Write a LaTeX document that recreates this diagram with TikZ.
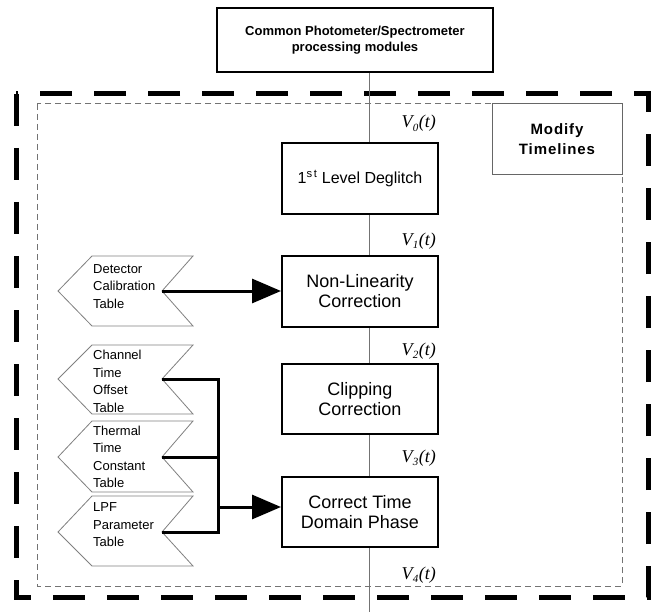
\documentclass[tikz,border=0pt]{standalone}
\usepackage{fontspec}
\setmainfont{Liberation Sans}
\newfontfamily\timesfont{Liberation Serif}
\usetikzlibrary{arrows.meta}
\newcommand\mysig[1]{V\kern0.3pt\raisebox{-3.5pt}{\fontsize{11}{11}\selectfont #1}\kern0.5pt(t)}
\newcommand\mychev[3]{\draw[chev] (92,-#1) -- (193,-#1) -- (162,-#2) -- (193,-#3) -- (92,-#3) -- (58,-#2) -- cycle;}
\begin{document}
\begin{tikzpicture}[x=1pt,y=1pt,
  procbox/.style={draw=black, line width=2pt, fill=white, minimum width=156pt, minimum height=71pt, inner sep=0pt, align=center, font=\fontsize{18}{20}\selectfont},
  topbox/.style={draw=black, line width=2pt, fill=white, minimum width=276pt, minimum height=64pt, inner sep=0pt, align=center, font=\bfseries\fontsize{13}{16}\selectfont},
  modbox/.style={draw=black!60, line width=1pt, fill=white, minimum width=130pt, minimum height=71pt, inner sep=0pt, align=center, font=\bfseries\addfontfeatures{LetterSpace=6}\fontsize{15}{20}\selectfont},
  spine/.style={draw=black!55, line width=1pt},
  vlab/.style={anchor=base east, inner sep=0pt, font=\timesfont\itshape\fontsize{18}{20}\selectfont},
  chev/.style={draw=black!50, line width=0.8pt, fill=white},
  chevtext/.style={anchor=north west, inner sep=0pt, align=left, font=\fontsize{13}{17.5}\selectfont},
  feed/.style={line width=3pt, line join=miter},
  feedarrow/.style={line width=3pt, -{Triangle[length=29pt,width=24pt]}},
  outerframe/.style={line width=5pt, dash pattern=on 32pt off 22pt},
  innerframe/.style={draw=black!55, line width=1pt, dash pattern=on 6pt off 4pt}
]
\useasboundingbox (0,0) rectangle (655,-612);
\fill[white] (0,0) rectangle (655,-612);
% frames
\draw[outerframe] (16,-94) rectangle (648,-597);
\draw[innerframe] (37,-104) rectangle (622,-586);
% nodes
\node[topbox] (top) at (355,-40) {Common Photometer/Spectrometer\\processing modules};
\node[modbox] (mod) at (557,-139.5) {Modify\\Timelines};
\node[procbox, font=\fontsize{16}{20}\selectfont] (dg) at (360,-178.5) {1\textsuperscript{\addfontfeatures{LetterSpace=15}st} Level Deglitch};
\node[procbox] (nl) at (360,-291.5) {Non-Linearity\\Correction};
\node[procbox, minimum height=70pt] (cc) at (360,-399) {Clipping\\Correction};
\node[procbox, minimum height=70pt] (ct) at (360,-512) {Correct Time\\Domain Phase};
% spine
\coordinate (sp) at (369,0);
\coordinate (spend) at (369,-612);
\draw[spine] (top.south -| sp) -- (dg.north -| sp);
\draw[spine] (dg.south -| sp) -- (nl.north -| sp);
\draw[spine] (nl.south -| sp) -- (cc.north -| sp);
\draw[spine] (cc.south -| sp) -- (ct.north -| sp);
\draw[spine] (ct.south -| sp) -- (spend);
% signal labels
\node[vlab] (v0) at (436,-128) {\mysig{0}};
\node[vlab] (v1) at (436,-245) {\mysig{1}};
\node[vlab] (v2) at (436,-355) {\mysig{2}};
\node[vlab] (v3) at (436,-462) {\mysig{3}};
\node[vlab] (v4) at (436,-579) {\mysig{4}};
% tables
\mychev{256}{291}{326}
\mychev{345}{379}{414}
\mychev{421}{457}{492}
\mychev{496}{532}{566}
\node[chevtext] (t1) at (93,-264) {Detector\\Calibration\\Table};
\node[chevtext] (t2) at (93,-350) {Channel\\Time\\Offset\\Table};
\node[chevtext] (t3) at (93,-425.5) {Thermal\\Time\\Constant\\Table};
\node[chevtext] (t4) at (93,-502.5) {LPF\\Parameter\\Table};
\coordinate (n1) at (162,-291);
\coordinate (n2) at (162,-379);
\coordinate (n3) at (162,-457);
\coordinate (n4) at (162,-532);
\coordinate (bus) at (218,0);
% feeds
\draw[feedarrow] (n1) -- (n1 -| nl.west);
\draw[feed] (n2) -- (n2 -| bus) -- (n4 -| bus) -- (n4);
\draw[feed] (n3) -- (n3 -| bus);
\draw[feedarrow] ([yshift=5pt]ct.west -| bus) -- ([yshift=5pt]ct.west);
\end{tikzpicture}
\end{document}
